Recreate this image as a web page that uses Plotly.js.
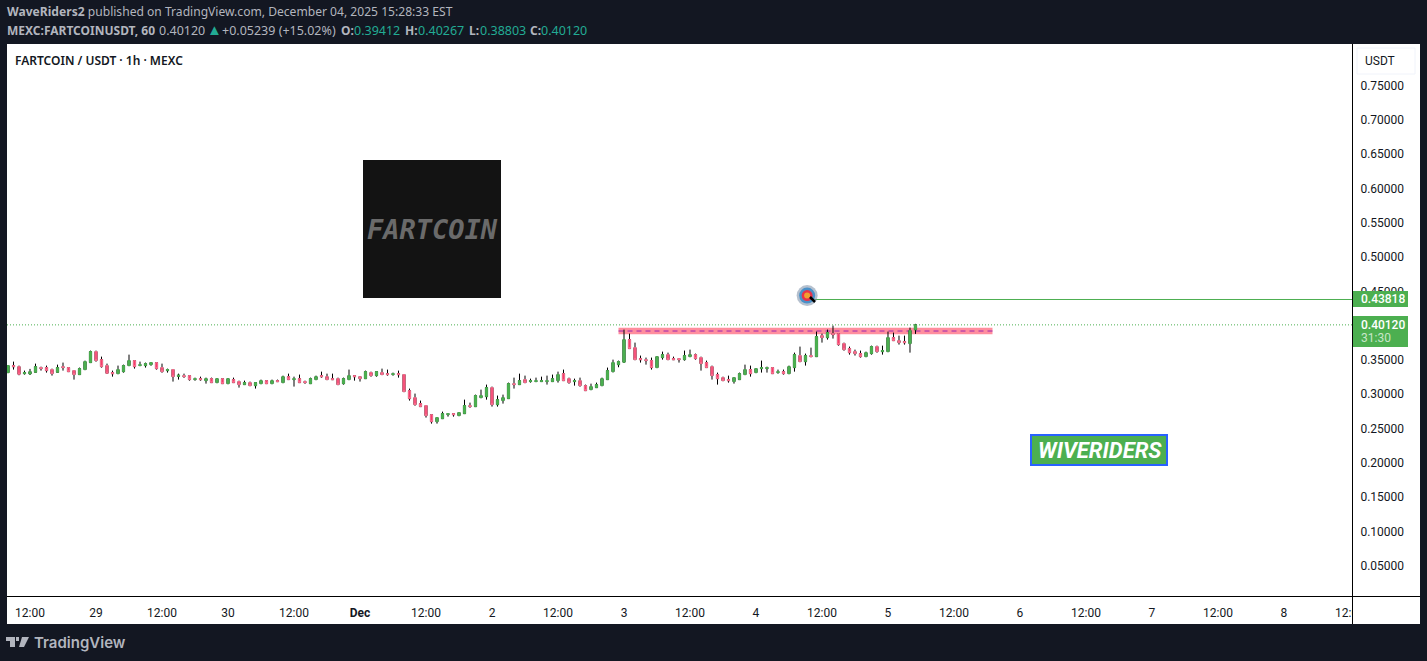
<!DOCTYPE html>
<html><head><meta charset="utf-8">
<script src="https://cdn.plot.ly/plotly-3.0.1.min.js"></script>
<style>html,body{margin:0;padding:0;background:#131722;overflow:hidden}#c{width:1427px;height:661px}</style>
</head><body><div id="c"></div>
<script>
const firstHour = Date.UTC(2025,10,28,8);
const open=[.3316,.3418,.3403,.3301,.3296,.3321,.3389,.3389,.3360,.3321,.3403,.3389,.3345,.3287,.3360,.3462,.3622,.3505,.3418,.3316,
.3301,.3330,.3418,.3491,.3418,.3418,.3432,.3462,.3389,.3345,.3360,.3262,.3272,.3272,.3214,.3228,.3199,.3228,.3170,.3228,
.3155,.3214,.3185,.3141,.3170,.3126,.3155,.3199,.3155,.3199,.3170,.3257,.3214,.3228,.3185,.3155,.3214,.3272,.3257,.3228,
.3228,.3155,.3214,.3272,.3257,.3228,.3316,.3272,.3316,.3301,.3287,.3301,.3287,.3053,.2951,.2864,.2835,.2703,.2601,.2645,
.2703,.2718,.2689,.2718,.2835,.2820,.2951,.2966,.3097,.2849,.2908,.2937,.3155,.3141,.3214,.3185,.3185,.3185,.3185,.3185,
.3199,.3301,.3228,.3185,.3199,.3126,.3068,.3097,.3126,.3214,.3330,.3432,.3467,.3797,.3680,.3520,.3505,.3491,.3389,.3535,
.3578,.3520,.3520,.3505,.3549,.3578,.3535,.3462,.3403,.3287,.3243,.3214,.3185,.3214,.3287,.3360,.3316,.3374,.3374,.3389,
.3316,.3330,.3301,.3389,.3564,.3476,.3564,.3549,.3855,.3826,.3884,.3884,.3739,.3666,.3622,.3593,.3549,.3593,.3695,.3622,
.3622,.3826,.3782,.3768,.3739,.39412];
const high=[.3418,.3476,.3418,.3345,.3370,.3447,.3403,.3418,.3374,.3432,.3462,.3389,.3345,.3389,.3491,.3637,.3637,.3549,.3447,.3345,
.3418,.3432,.3578,.3491,.3476,.3462,.3462,.3462,.3447,.3374,.3360,.3301,.3301,.3272,.3243,.3257,.3243,.3243,.3228,.3228,
.3228,.3243,.3199,.3199,.3185,.3170,.3214,.3199,.3214,.3214,.3272,.3301,.3257,.3287,.3199,.3243,.3272,.3330,.3301,.3301,
.3243,.3243,.3360,.3272,.3257,.3345,.3330,.3330,.3374,.3360,.3316,.3345,.3287,.3083,.3010,.2908,.2835,.2703,.2660,.2747,
.2718,.2718,.2733,.2922,.2878,.2995,.3068,.3141,.3112,.2981,.2995,.3170,.3243,.3301,.3272,.3228,.3243,.3257,.3272,.3287,
.3330,.3360,.3243,.3228,.3243,.3141,.3155,.3170,.3243,.3389,.3505,.3491,.3943,.3884,.3753,.3564,.3535,.3535,.3549,.3622,
.3607,.3549,.3520,.3637,.3651,.3593,.3549,.3491,.3418,.3316,.3257,.3272,.3243,.3316,.3432,.3418,.3374,.3491,.3403,.3389,
.3360,.3360,.3418,.3607,.3695,.3593,.3680,.3914,.3884,.3943,.4001,.3884,.3753,.3695,.3651,.3637,.3622,.3709,.3709,.3709,
.3914,.3899,.3855,.3855,.3972,.40267];
const low=[.3316,.3360,.3277,.3287,.3287,.3316,.3345,.3316,.3272,.3316,.3345,.3330,.3214,.3287,.3360,.3462,.3476,.3389,.3301,.3257,
.3301,.3316,.3418,.3374,.3418,.3389,.3418,.3360,.3316,.3316,.3185,.3214,.3243,.3199,.3199,.3199,.3155,.3170,.3170,.3155,
.3155,.3170,.3097,.3141,.3126,.3083,.3155,.3155,.3155,.3185,.3170,.3214,.3112,.3170,.3155,.3155,.3214,.3243,.3214,.3214,
.3141,.3141,.3214,.3199,.3185,.3228,.3257,.3257,.3287,.3272,.3272,.3243,.3039,.2908,.2835,.2820,.2660,.2572,.2572,.2645,
.2674,.2674,.2689,.2718,.2806,.2820,.2951,.2922,.2820,.2820,.2864,.2937,.3083,.3141,.3170,.3170,.3185,.3185,.3141,.3185,
.3170,.3199,.3155,.3126,.3112,.3053,.3068,.3097,.3126,.3214,.3321,.3394,.3467,.3666,.3505,.3462,.3432,.3360,.3389,.3505,
.3505,.3505,.3462,.3491,.3549,.3505,.3345,.3389,.3214,.3141,.3199,.3170,.3155,.3214,.3287,.3257,.3316,.3316,.3316,.3301,
.3301,.3287,.3301,.3330,.3476,.3418,.3549,.3549,.3753,.3797,.3812,.3709,.3637,.3578,.3564,.3535,.3549,.3578,.3607,.3578,
.3622,.3782,.3724,.3724,.3607,.38803];
const close=[.3418,.3403,.3292,.3316,.3330,.3403,.3374,.3345,.3301,.3389,.3389,.3330,.3287,.3374,.3476,.3622,.3491,.3403,.3306,.3301,
.3360,.3418,.3491,.3403,.3432,.3447,.3462,.3374,.3330,.3360,.3257,.3277,.3257,.3214,.3228,.3214,.3228,.3170,.3228,.3155,
.3228,.3170,.3141,.3170,.3126,.3170,.3199,.3155,.3199,.3185,.3257,.3214,.3228,.3170,.3170,.3228,.3257,.3257,.3214,.3214,
.3141,.3228,.3272,.3257,.3228,.3330,.3272,.3330,.3287,.3287,.3301,.3287,.3039,.2937,.2849,.2820,.2689,.2601,.2660,.2718,
.2718,.2703,.2733,.2835,.2820,.2981,.2981,.3097,.2849,.2922,.2951,.3155,.3141,.3199,.3170,.3199,.3199,.3199,.3199,.3228,
.3287,.3199,.3170,.3199,.3126,.3053,.3112,.3141,.3228,.3345,.3462,.3476,.3797,.3666,.3505,.3505,.3491,.3389,.3549,.3578,
.3505,.3505,.3505,.3564,.3578,.3520,.3447,.3389,.3272,.3228,.3199,.3199,.3243,.3301,.3360,.3301,.3374,.3389,.3389,.3301,
.3330,.3301,.3403,.3578,.3476,.3564,.3549,.3841,.3826,.3899,.3870,.3724,.3651,.3607,.3593,.3549,.3607,.3695,.3622,.3637,
.3826,.3782,.3753,.3753,.3928,.40120];
const yTicks=[.05,.10,.15,.20,.25,.30,.35,.40,.45,.50,.55,.60,.65,.70,.75];
const xTickDates=["2025-11-28 12:00","2025-11-29 00:00","2025-11-29 12:00","2025-11-30 00:00","2025-11-30 12:00","2025-12-01 00:00","2025-12-01 12:00","2025-12-02 00:00","2025-12-02 12:00","2025-12-03 00:00","2025-12-03 12:00","2025-12-04 00:00","2025-12-04 12:00","2025-12-05 00:00","2025-12-05 12:00","2025-12-06 00:00","2025-12-06 12:00","2025-12-07 00:00","2025-12-07 12:00","2025-12-08 00:00","2025-12-08 12:00"];
const xTickText=["12:00","29","12:00","30","12:00","<b>Dec</b>","12:00","2","12:00","3","12:00","4","12:00","5","12:00","6","12:00","7","12:00","8","12:00"];
const lastPrice=0.40120, targetPrice=0.43818, zoneTop=.3968, zoneBottom=.3875, zoneMid=.3922;
const zoneFrom="2025-12-02 23:00", zoneTo="2025-12-05 19:00", targetFrom="2025-12-04 10:40", rangeFrom="2025-11-28 07:49", rangeTo="2025-12-08 12:22";
const iconTime="2025-12-04 09:18", iconPrice=.4439;

const times=open.map((_,i)=>new Date(firstHour+i*3600000).toISOString());
const px=x=>(x-7)/1345, py=y=>1-(y-44)/552;
const FG='#131722',GRN='#4caf50',UI='"Noto Sans",sans-serif',TEAL='#22ab94',MUT='#b2b5be';
const rectP=(x0,y0,x1,y1,fill,layer,extra)=>Object.assign({type:'rect',xref:'paper',yref:'paper',x0:px(x0),x1:px(x1),y0:py(y0),y1:py(y1),fillcolor:fill,line:{width:0},layer:layer||'above'},extra||{});
const lineP=(x0,y0,x1,y1,color,w)=>({type:'line',xref:'paper',yref:'paper',x0:px(x0),x1:px(x1),y0:py(y0),y1:py(y1),line:{color:color,width:w},layer:'above'});
const pathP=(pts,fill)=>({type:'path',xref:'paper',yref:'paper',path:'M'+pts.map(p=>px(p[0])+','+py(p[1])).join('L')+'Z',fillcolor:fill,line:{width:0},layer:'above'});
const note=(x,y,text,size,color,extra)=>Object.assign({xref:'paper',yref:'paper',x:px(x),y:py(y),text:text,showarrow:false,xanchor:'left',yanchor:'middle',align:'left',borderpad:0,borderwidth:0,font:{family:UI,size:size,color:color}},extra||{});
const halo=(size,color)=>({type:'scatter',mode:'markers',x:[iconTime],y:[iconPrice],marker:{size:size,color:color,line:{width:0}},hoverinfo:'skip',showlegend:false});

const data=[
 {type:'candlestick',x:times,open:open,high:high,low:low,close:close,whiskerwidth:0,hoverinfo:'skip',showlegend:false,
  increasing:{line:{color:'#000',width:1},fillcolor:GRN},decreasing:{line:{color:'#000',width:1},fillcolor:'#f23d6d'}},
 {type:'candlestick',x:times,open:open,close:close,
  high:open.map((o,i)=>Math.max(o,close[i])),low:open.map((o,i)=>Math.min(o,close[i])),whiskerwidth:0,hoverinfo:'skip',showlegend:false,
  increasing:{line:{color:GRN,width:1},fillcolor:GRN},decreasing:{line:{color:'#fb6f8e',width:1},fillcolor:'#f23d6d'}},
 halo(21,'rgba(120,140,165,0.55)'),halo(16,'#4a90c8'),halo(11,'#e8344a'),halo(6,'#f0a030')
];

const shapes=[
 rectP(7,44,1420,624,'#fff','below'),
 {type:'rect',xref:'x',yref:'y',x0:zoneFrom,x1:zoneTo,y0:zoneBottom,y1:zoneTop,fillcolor:'#ff8e9e',line:{width:0},layer:'below'},
 {type:'line',xref:'x',yref:'y',x0:zoneFrom,x1:zoneTo,y0:zoneMid,y1:zoneMid,line:{color:'#9c27b0',width:1,dash:'5px,4px'},layer:'below'},
 {type:'line',xref:'paper',yref:'y',x0:0,x1:1,y0:lastPrice,y1:lastPrice,line:{color:GRN,width:1,dash:'1px,2px'},layer:'below'},
 {type:'line',xref:'x',yref:'y',x0:targetFrom,x1:rangeTo,y0:targetPrice,y1:targetPrice,line:{color:GRN,width:1},layer:'below'},
 lineP(810,297,815,302,'#000',2.5),
 rectP(1353,597,1420,624,'#fff'),
 lineP(7,596.5,1420,596.5,'#000',1),
 lineP(1352.5,44,1352.5,624,'#000',1),
 rectP(363,160,501,298,'#131313'),
 rectP(1031,435,1167,465,GRN,'above',{line:{color:'#2962ff',width:2}}),
 rectP(1357,48,1415,74,'#fff','above',{line:{color:'#f0f3fa',width:1}}),
 rectP(1353,291,1408,307,GRN),
 rectP(1353,316,1408,347,GRN),
 pathP([[6,637],[15,637],[15,647],[10,647],[10,641],[6,641]],MUT),
 pathP([[16,637],[19,637],[19,641],[16,641]],MUT),
 pathP([[22,637],[29,637],[24,647],[19,647]],MUT)
];

const big=12.5;
const annotations=[
 note(7,12,'<b>WaveRiders2</b> published on TradingView.com, December 04, 2025 15:28:33 EST',12.1,MUT),
 note(7,30,'<b>MEXC:FARTCOINUSDT, 60</b>',12,MUT),
 note(159,30,'0.40120',big,MUT),
 note(207,29,'▲',15,TEAL),
 note(222,30,'+0.05239 (+15.02%)',big,MUT),
 note(341,30,'<b>O:</b>',12,MUT), note(354,30,'0.39412',big,TEAL),
 note(405,30,'<b>H:</b>',12,MUT), note(418,30,'0.40267',big,TEAL),
 note(469,30,'<b>L:</b>',12,MUT), note(480,30,'0.38803',big,TEAL),
 note(530,30,'<b>C:</b>',12,MUT), note(541,30,'0.40120',big,TEAL),
 note(15,60,'FARTCOIN / USDT · 1h · MEXC',12,FG,{font:{family:UI,size:12,color:FG,weight:600}}),
 note(1365,61,'USDT',12,FG,{font:{family:'Roboto',size:12,color:FG}}),
 note(1361,299,'0.43818',12,'#fff',{font:{family:'Roboto',size:12,color:'#fff',weight:500}}),
 note(1361,324.5,'0.40120',12,'#fff',{font:{family:'Roboto',size:12,color:'#fff',weight:500}}),
 note(1361,338,'31:30',12,'#c8e6c9',{font:{family:'Roboto',size:12,color:'#c8e6c9'}}),
 note(432,229,'FARTCOIN',27,'#6a6a6a',{xanchor:'center',font:{family:'DejaVu Sans Mono',size:27,color:'#6a6a6a',style:'italic',weight:700}}),
 note(1100,450,'WIVERIDERS',22,'#fff',{xanchor:'center',font:{family:'Roboto',size:22,color:'#fff',style:'italic',weight:700}}),
 note(34,642,'TradingView',15,MUT,{font:{family:'Inter',size:15,color:MUT,weight:600}})
];

const layout={width:1427,height:661,margin:{l:7,r:75,t:44,b:65,pad:0},paper_bgcolor:'#131722',plot_bgcolor:'#fff',showlegend:false,dragmode:false,hovermode:false,
 xaxis:{type:'date',range:[rangeFrom,rangeTo],rangeslider:{visible:false},showgrid:false,zeroline:false,showline:false,tickmode:'array',tickvals:xTickDates,ticktext:xTickText,ticks:'outside',ticklen:6,tickcolor:'rgba(0,0,0,0)',tickangle:0,tickfont:{family:'Roboto',size:12,color:FG}},
 yaxis:{side:'right',range:[0.00593,0.81063],showgrid:false,zeroline:false,showline:false,tickmode:'array',tickvals:yTicks,ticktext:yTicks.map(v=>v.toFixed(5)),ticks:'outside',ticklen:5,tickcolor:'rgba(0,0,0,0)',tickfont:{family:'Roboto',size:12,color:FG}},
 boxgap:0.45,shapes:shapes,annotations:annotations};
Plotly.newPlot('c',data,layout,{displayModeBar:false,staticPlot:true});
</script></body></html>
